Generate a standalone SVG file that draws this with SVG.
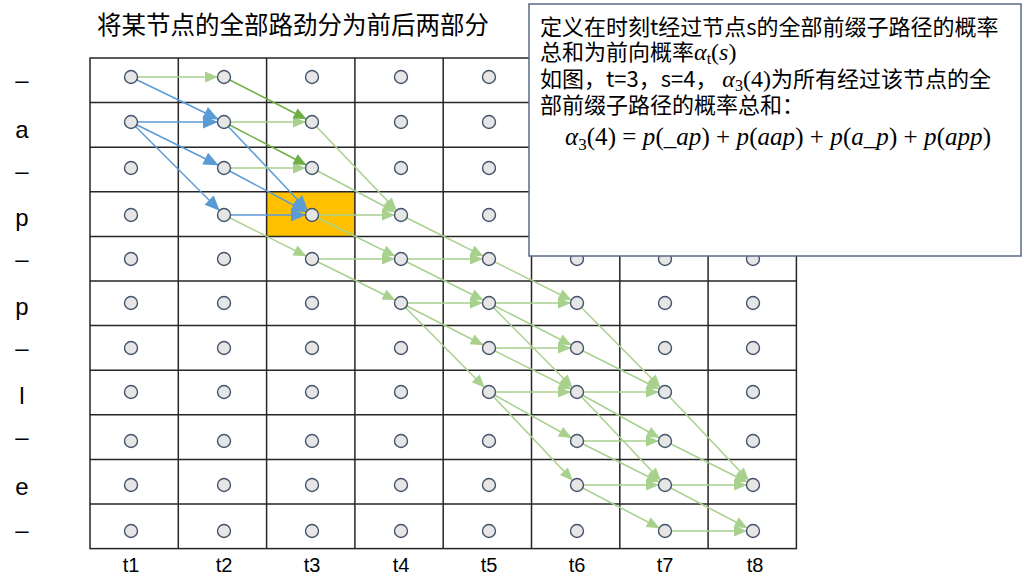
<svg xmlns="http://www.w3.org/2000/svg" width="1024" height="578" viewBox="0 0 1024 578">
<style>
.cjk{font-family:"Noto Sans CJK SC","Noto Sans",sans-serif;fill:#000}
.lbl{font-family:"Liberation Sans",Arial,sans-serif;fill:#000}
.m{font-family:"Liberation Serif","Times New Roman",serif;font-style:italic}
.mr{font-family:"Liberation Serif","Times New Roman",serif;font-style:normal}
.grid{stroke:#262626;stroke-width:1.5;fill:none}
.nd{fill:#e7e6e6;stroke:#44546a;stroke-width:1.4}
.b{stroke:#5b9bd5;stroke-width:1.5;marker-end:url(#ab)}
.g{stroke:#a9d18e;stroke-width:1.5;marker-end:url(#ag)}
.dg{stroke:#70ad47;stroke-width:1.5;marker-end:url(#adg)}
</style>
<defs>
<marker id="ab" markerUnits="userSpaceOnUse" markerWidth="15" markerHeight="13" refX="21" refY="6.5" orient="auto" viewBox="0 0 15 13" overflow="visible"><path d="M0,0 L15,6.5 L0,13 z" fill="#5b9bd5"/></marker>
<marker id="ag" markerUnits="userSpaceOnUse" markerWidth="13" markerHeight="11" refX="19" refY="5.5" orient="auto" viewBox="0 0 13 11" overflow="visible"><path d="M0,0 L13,5.5 L0,11 z" fill="#a9d18e"/></marker>
<marker id="adg" markerUnits="userSpaceOnUse" markerWidth="13" markerHeight="11" refX="19" refY="5.5" orient="auto" viewBox="0 0 13 11" overflow="visible"><path d="M0,0 L13,5.5 L0,11 z" fill="#70ad47"/></marker>
</defs>
<rect width="1024" height="578" fill="#fff"/>
<text class="cjk" x="97" y="34" font-size="24.5">将某节点的全部路劲分为前后两部分</text>
<rect x="266.6" y="191.8" width="88.3" height="44.6" fill="#ffc000"/>
<g id="grid" class="grid">
<rect x="90" y="58" width="706.4" height="490.6"/>
<path d="M178.3,58V548.6M266.6,58V548.6M354.9,58V548.6M443.2,58V548.6M531.5,58V548.6M619.8,58V548.6M708.1,58V548.6"/>
<path d="M90,102.6H796.4M90,147.2H796.4M90,191.8H796.4M90,236.4H796.4M90,281H796.4M90,325.6H796.4M90,370.2H796.4M90,414.8H796.4M90,459.4H796.4M90,504H796.4"/>
</g>
<g id="connectors">
<line class="b" x1="131" y1="77" x2="224" y2="122"/>
<line class="b" x1="131" y1="122" x2="224" y2="122"/>
<line class="b" x1="131" y1="122" x2="224" y2="168"/>
<line class="b" x1="131" y1="122" x2="224" y2="215"/>
<line class="b" x1="224" y1="122" x2="312" y2="215"/>
<line class="b" x1="224" y1="168" x2="312" y2="215"/>
<line class="b" x1="224" y1="215" x2="312" y2="215"/>
<line class="g" x1="131" y1="77" x2="224" y2="77"/>
<line class="g" x1="224" y1="122" x2="312" y2="122"/>
<line class="g" x1="224" y1="168" x2="312" y2="168"/>
<line class="g" x1="224" y1="215" x2="312" y2="259"/>
<line class="dg" x1="224" y1="77" x2="312" y2="122"/>
<line class="dg" x1="224" y1="122" x2="312" y2="168"/>
<line class="g" x1="312" y1="122" x2="401" y2="215"/>
<line class="g" x1="312" y1="168" x2="401" y2="215"/>
<line class="g" x1="312" y1="215" x2="401" y2="215"/>
<line class="g" x1="312" y1="215" x2="401" y2="259"/>
<line class="g" x1="312" y1="259" x2="401" y2="259"/>
<line class="g" x1="312" y1="259" x2="401" y2="303"/>
<line class="g" x1="401" y1="215" x2="489" y2="259"/>
<line class="g" x1="401" y1="259" x2="489" y2="259"/>
<line class="g" x1="401" y1="259" x2="489" y2="303"/>
<line class="g" x1="401" y1="303" x2="489" y2="303"/>
<line class="g" x1="401" y1="303" x2="489" y2="348"/>
<line class="g" x1="401" y1="303" x2="489" y2="392"/>
<line class="g" x1="489" y1="259" x2="577" y2="303"/>
<line class="g" x1="489" y1="303" x2="577" y2="303"/>
<line class="g" x1="489" y1="303" x2="577" y2="348"/>
<line class="g" x1="489" y1="303" x2="577" y2="392"/>
<line class="g" x1="489" y1="348" x2="577" y2="348"/>
<line class="g" x1="489" y1="348" x2="577" y2="392"/>
<line class="g" x1="489" y1="392" x2="577" y2="392"/>
<line class="g" x1="489" y1="392" x2="577" y2="441"/>
<line class="g" x1="489" y1="392" x2="577" y2="485"/>
<line class="g" x1="577" y1="303" x2="665" y2="392"/>
<line class="g" x1="577" y1="348" x2="665" y2="392"/>
<line class="g" x1="577" y1="392" x2="665" y2="392"/>
<line class="g" x1="577" y1="392" x2="665" y2="441"/>
<line class="g" x1="577" y1="392" x2="665" y2="485"/>
<line class="g" x1="577" y1="441" x2="665" y2="441"/>
<line class="g" x1="577" y1="441" x2="665" y2="485"/>
<line class="g" x1="577" y1="485" x2="665" y2="485"/>
<line class="g" x1="577" y1="485" x2="665" y2="531"/>
<line class="g" x1="665" y1="392" x2="753" y2="485"/>
<line class="g" x1="665" y1="441" x2="753" y2="485"/>
<line class="g" x1="665" y1="485" x2="753" y2="485"/>
<line class="g" x1="665" y1="485" x2="753" y2="531"/>
<line class="g" x1="665" y1="531" x2="753" y2="531"/>
</g>
<g id="nodes">
<g id="n1-1"><circle class="nd" cx="131" cy="77" r="6.5"/></g>
<g id="n1-2"><circle class="nd" cx="131" cy="122" r="6.5"/></g>
<g id="n1-3"><circle class="nd" cx="131" cy="168" r="6.5"/></g>
<g id="n1-4"><circle class="nd" cx="131" cy="215" r="6.5"/></g>
<g id="n1-5"><circle class="nd" cx="131" cy="259" r="6.5"/></g>
<g id="n1-6"><circle class="nd" cx="131" cy="303" r="6.5"/></g>
<g id="n1-7"><circle class="nd" cx="131" cy="348" r="6.5"/></g>
<g id="n1-8"><circle class="nd" cx="131" cy="392" r="6.5"/></g>
<g id="n1-9"><circle class="nd" cx="131" cy="441" r="6.5"/></g>
<g id="n1-10"><circle class="nd" cx="131" cy="485" r="6.5"/></g>
<g id="n1-11"><circle class="nd" cx="131" cy="531" r="6.5"/></g>
<g id="n2-1"><circle class="nd" cx="224" cy="77" r="6.5"/></g>
<g id="n2-2"><circle class="nd" cx="224" cy="122" r="6.5"/></g>
<g id="n2-3"><circle class="nd" cx="224" cy="168" r="6.5"/></g>
<g id="n2-4"><circle class="nd" cx="224" cy="215" r="6.5"/></g>
<g id="n2-5"><circle class="nd" cx="224" cy="259" r="6.5"/></g>
<g id="n2-6"><circle class="nd" cx="224" cy="303" r="6.5"/></g>
<g id="n2-7"><circle class="nd" cx="224" cy="348" r="6.5"/></g>
<g id="n2-8"><circle class="nd" cx="224" cy="392" r="6.5"/></g>
<g id="n2-9"><circle class="nd" cx="224" cy="441" r="6.5"/></g>
<g id="n2-10"><circle class="nd" cx="224" cy="485" r="6.5"/></g>
<g id="n2-11"><circle class="nd" cx="224" cy="531" r="6.5"/></g>
<g id="n3-1"><circle class="nd" cx="312" cy="77" r="6.5"/></g>
<g id="n3-2"><circle class="nd" cx="312" cy="122" r="6.5"/></g>
<g id="n3-3"><circle class="nd" cx="312" cy="168" r="6.5"/></g>
<g id="n3-4"><circle class="nd" cx="312" cy="215" r="6.5"/></g>
<g id="n3-5"><circle class="nd" cx="312" cy="259" r="6.5"/></g>
<g id="n3-6"><circle class="nd" cx="312" cy="303" r="6.5"/></g>
<g id="n3-7"><circle class="nd" cx="312" cy="348" r="6.5"/></g>
<g id="n3-8"><circle class="nd" cx="312" cy="392" r="6.5"/></g>
<g id="n3-9"><circle class="nd" cx="312" cy="441" r="6.5"/></g>
<g id="n3-10"><circle class="nd" cx="312" cy="485" r="6.5"/></g>
<g id="n3-11"><circle class="nd" cx="312" cy="531" r="6.5"/></g>
<g id="n4-1"><circle class="nd" cx="401" cy="77" r="6.5"/></g>
<g id="n4-2"><circle class="nd" cx="401" cy="122" r="6.5"/></g>
<g id="n4-3"><circle class="nd" cx="401" cy="168" r="6.5"/></g>
<g id="n4-4"><circle class="nd" cx="401" cy="215" r="6.5"/></g>
<g id="n4-5"><circle class="nd" cx="401" cy="259" r="6.5"/></g>
<g id="n4-6"><circle class="nd" cx="401" cy="303" r="6.5"/></g>
<g id="n4-7"><circle class="nd" cx="401" cy="348" r="6.5"/></g>
<g id="n4-8"><circle class="nd" cx="401" cy="392" r="6.5"/></g>
<g id="n4-9"><circle class="nd" cx="401" cy="441" r="6.5"/></g>
<g id="n4-10"><circle class="nd" cx="401" cy="485" r="6.5"/></g>
<g id="n4-11"><circle class="nd" cx="401" cy="531" r="6.5"/></g>
<g id="n5-1"><circle class="nd" cx="489" cy="77" r="6.5"/></g>
<g id="n5-2"><circle class="nd" cx="489" cy="122" r="6.5"/></g>
<g id="n5-3"><circle class="nd" cx="489" cy="168" r="6.5"/></g>
<g id="n5-4"><circle class="nd" cx="489" cy="215" r="6.5"/></g>
<g id="n5-5"><circle class="nd" cx="489" cy="259" r="6.5"/></g>
<g id="n5-6"><circle class="nd" cx="489" cy="303" r="6.5"/></g>
<g id="n5-7"><circle class="nd" cx="489" cy="348" r="6.5"/></g>
<g id="n5-8"><circle class="nd" cx="489" cy="392" r="6.5"/></g>
<g id="n5-9"><circle class="nd" cx="489" cy="441" r="6.5"/></g>
<g id="n5-10"><circle class="nd" cx="489" cy="485" r="6.5"/></g>
<g id="n5-11"><circle class="nd" cx="489" cy="531" r="6.5"/></g>
<g id="n6-5"><circle class="nd" cx="577" cy="259" r="6.5"/></g>
<g id="n6-6"><circle class="nd" cx="577" cy="303" r="6.5"/></g>
<g id="n6-7"><circle class="nd" cx="577" cy="348" r="6.5"/></g>
<g id="n6-8"><circle class="nd" cx="577" cy="392" r="6.5"/></g>
<g id="n6-9"><circle class="nd" cx="577" cy="441" r="6.5"/></g>
<g id="n6-10"><circle class="nd" cx="577" cy="485" r="6.5"/></g>
<g id="n6-11"><circle class="nd" cx="577" cy="531" r="6.5"/></g>
<g id="n7-5"><circle class="nd" cx="665" cy="259" r="6.5"/></g>
<g id="n7-6"><circle class="nd" cx="665" cy="303" r="6.5"/></g>
<g id="n7-7"><circle class="nd" cx="665" cy="348" r="6.5"/></g>
<g id="n7-8"><circle class="nd" cx="665" cy="392" r="6.5"/></g>
<g id="n7-9"><circle class="nd" cx="665" cy="441" r="6.5"/></g>
<g id="n7-10"><circle class="nd" cx="665" cy="485" r="6.5"/></g>
<g id="n7-11"><circle class="nd" cx="665" cy="531" r="6.5"/></g>
<g id="n8-5"><circle class="nd" cx="753" cy="259" r="6.5"/></g>
<g id="n8-6"><circle class="nd" cx="753" cy="303" r="6.5"/></g>
<g id="n8-7"><circle class="nd" cx="753" cy="348" r="6.5"/></g>
<g id="n8-8"><circle class="nd" cx="753" cy="392" r="6.5"/></g>
<g id="n8-9"><circle class="nd" cx="753" cy="441" r="6.5"/></g>
<g id="n8-10"><circle class="nd" cx="753" cy="485" r="6.5"/></g>
<g id="n8-11"><circle class="nd" cx="753" cy="531" r="6.5"/></g>
</g>
<g id="rowlabels" class="lbl" font-size="24" text-anchor="middle">
<text x="22" y="88">–</text>
<text x="22" y="138">a</text>
<text x="22" y="179">–</text>
<text x="22" y="226">p</text>
<text x="22" y="267">–</text>
<text x="22" y="315">p</text>
<text x="22" y="356">–</text>
<text x="22" y="404">l</text>
<text x="22" y="445">–</text>
<text x="22" y="495">e</text>
<text x="22" y="538">–</text>
</g>
<g id="collabels" class="lbl" font-size="20" text-anchor="middle">
<text x="131" y="572">t1</text>
<text x="224" y="572">t2</text>
<text x="312" y="572">t3</text>
<text x="401" y="572">t4</text>
<text x="489" y="572">t5</text>
<text x="577" y="572">t6</text>
<text x="665" y="572">t7</text>
<text x="755" y="572">t8</text>
</g>
<g id="textbox">
<rect x="529" y="4" width="492" height="252" fill="#fff" stroke="#5b6a86" stroke-width="1.5"/>
<text class="cjk" x="540" y="35" font-size="22">定义在时刻t经过节点s的全部前缀子路径的概率</text>
<text class="cjk" x="540" y="60" font-size="22">总和为前向概率<tspan class="m" font-size="24">α</tspan><tspan class="mr" font-size="16" dy="4">t</tspan><tspan class="mr" font-size="24" dy="-4">(</tspan><tspan class="m" font-size="24">s</tspan><tspan class="mr" font-size="24">)</tspan></text>
<text class="cjk" x="540" y="87" font-size="22">如图，t=3，s=4， <tspan class="m" font-size="24">α</tspan><tspan class="mr" font-size="16" dy="4">3</tspan><tspan class="mr" font-size="24" dy="-4">(4)</tspan>为所有经过该节点的全</text>
<text class="cjk" x="540" y="113" font-size="22">部前缀子路径的概率总和：</text>
<text x="565" y="145" font-size="25" textLength="426" lengthAdjust="spacing"><tspan class="m">α</tspan><tspan class="mr" font-size="17" dy="5">3</tspan><tspan class="mr" dy="-5">(4) = </tspan><tspan class="m">p</tspan><tspan class="mr">(</tspan><tspan class="m">_ap</tspan><tspan class="mr">) + </tspan><tspan class="m">p</tspan><tspan class="mr">(</tspan><tspan class="m">aap</tspan><tspan class="mr">) + </tspan><tspan class="m">p</tspan><tspan class="mr">(</tspan><tspan class="m">a_p</tspan><tspan class="mr">) + </tspan><tspan class="m">p</tspan><tspan class="mr">(</tspan><tspan class="m">app</tspan><tspan class="mr">)</tspan></text>
</g>
</svg>
